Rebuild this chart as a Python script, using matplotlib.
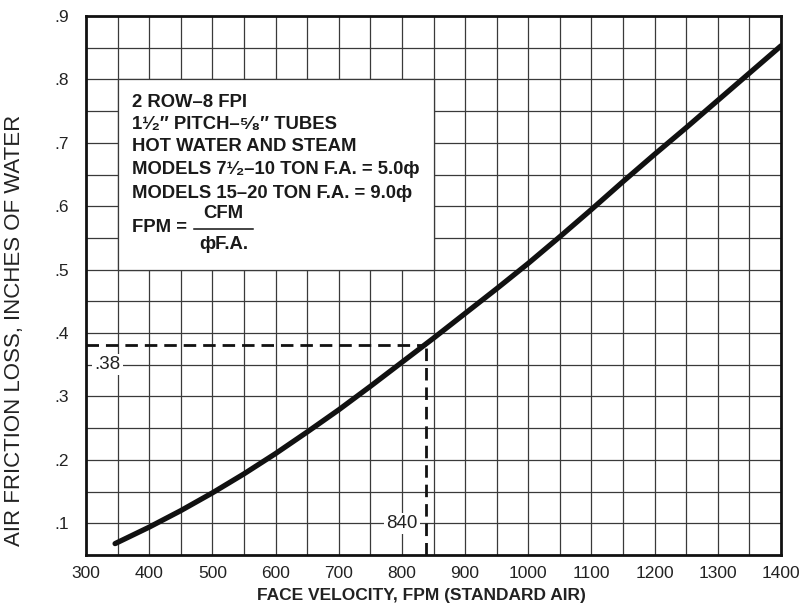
import matplotlib
matplotlib.use("Agg")
import matplotlib.pyplot as plt
import numpy as np
from matplotlib.patches import Rectangle
from matplotlib.lines import Line2D

plt.rcParams['font.family'] = ['Liberation Sans', 'DejaVu Sans']

# Data
fpm = [346, 400, 450, 500, 550, 600, 650, 700, 750, 800, 850, 900, 950, 1000,
       1050, 1100, 1150, 1200, 1250, 1300, 1350, 1400]
loss = [0.068, 0.094, 0.120, 0.148, 0.178, 0.210, 0.244, 0.279, 0.316, 0.354, 0.392, 0.431, 0.470, 0.510,
        0.552, 0.595, 0.639, 0.682, 0.724, 0.767, 0.810, 0.853]
xticks = [300, 400, 500, 600, 700, 800, 900, 1000, 1100, 1200, 1300, 1400]
yticks = [0.1, 0.2, 0.3, 0.4, 0.5, 0.6, 0.7, 0.8, 0.9]
ytick_labels = ['.1', '.2', '.3', '.4', '.5', '.6', '.7', '.8', '.9']
example_fpm = 838
example_loss = 0.381

fig = plt.figure(figsize=(8.07, 6.12), dpi=100)
ax = fig.add_axes([0.1066, 0.0931, 0.8612, 0.8807])
ax.set_xlim(300, 1400)
ax.set_ylim(0.05, 0.9)

# grid every 50 FPM and every 0.05 in
for gx in np.arange(350, 1400, 50):
    ax.axvline(gx, color='#3a3a3a', lw=0.9, zorder=1)
for gy in np.arange(0.1, 0.9, 0.05):
    ax.axhline(gy, color='#3a3a3a', lw=0.9, zorder=1)

# white note box
ax.add_patch(Rectangle((350, 0.5), 500, 0.3, facecolor='white', edgecolor='#3a3a3a', lw=0.9, zorder=2))

# curve
ax.plot(fpm, loss, color='#111111', lw=3.8, solid_capstyle='round', zorder=5)

# dashed example lines
ax.plot([300, example_fpm], [example_loss, example_loss], color='#111111', lw=2.0,
        dashes=(4.5, 2.5), zorder=4)
ax.plot([example_fpm, example_fpm], [0.05, example_loss], color='#111111', lw=2.0,
        dashes=(4.5, 2.5), zorder=4)

ax.text(334, 0.35, '.38', fontsize=13.5, ha='center', va='center', zorder=3, color='#222222',
        bbox=dict(facecolor='white', edgecolor='none', pad=1.5))
ax.text(800, 0.1, '840', fontsize=13.5, ha='center', va='center', zorder=3, color='#222222',
        bbox=dict(facecolor='white', edgecolor='none', pad=1.5))

# note text
tx = 372
fs = 13.3
lines = [
    (0.764, '2 ROW–8 FPI'),
    (0.729, '1¹⁄₂″ PITCH–⁵⁄₈″ TUBES'),
    (0.694, 'HOT WATER AND STEAM'),
    (0.658, 'MODELS 7¹⁄₂–10 TON F.A. = 5.0ф'),
    (0.620, 'MODELS 15–20 TON F.A. = 9.0ф'),
]
for y, s in lines:
    ax.text(tx, y, s, fontsize=fs, fontweight='bold', ha='left', va='center', zorder=6, color='#1a1a1a')
ax.text(tx, 0.566, 'FPM =', fontsize=fs, fontweight='bold', ha='left', va='center', zorder=6, color='#1a1a1a')
ax.text(518, 0.588, 'CFM', fontsize=fs, fontweight='bold', ha='center', va='center', zorder=6, color='#1a1a1a')
ax.text(518, 0.540, 'фF.A.', fontsize=fs, fontweight='bold', ha='center', va='center', zorder=6, color='#1a1a1a')
ax.add_line(Line2D([471, 565], [0.5645, 0.5645], color='#111111', lw=1.1, zorder=6))

ax.set_xticks(xticks)
ax.set_yticks(yticks)
ax.set_yticklabels(ytick_labels)
ax.tick_params(axis='both', length=0, labelsize=12.5, colors='#222222')
ax.tick_params(axis='x', pad=8)
ax.tick_params(axis='y', pad=12)
for sp in ax.spines.values():
    sp.set_linewidth(2.0)
    sp.set_color('#111111')
    sp.set_zorder(7)

ax.set_xlabel('FACE VELOCITY, FPM (STANDARD AIR)', fontsize=12.5, fontweight='bold', color='#222222')
ax.xaxis.set_label_coords(0.483, -0.062)
ax.set_ylabel('AIR FRICTION LOSS, INCHES OF WATER', fontsize=16, color='#222222')
ax.yaxis.set_label_coords(-0.088, 0.417)

fig.savefig('out.png', dpi=100)
